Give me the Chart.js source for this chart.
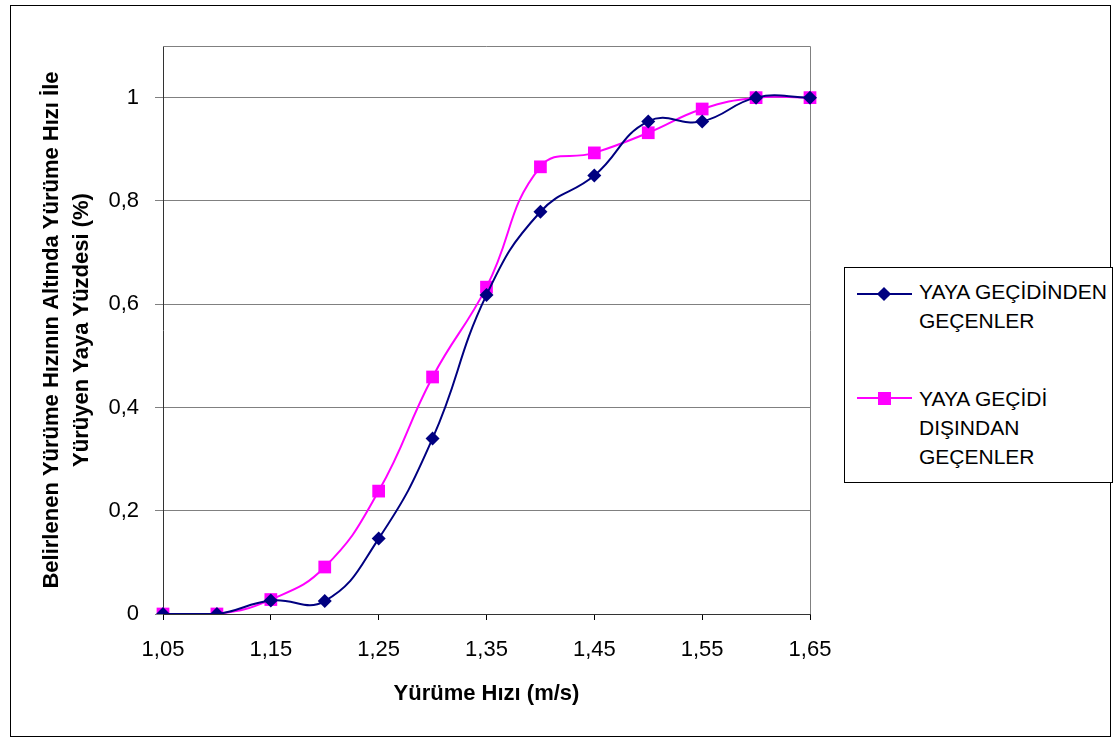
<!DOCTYPE html>
<html>
<head>
<meta charset="utf-8">
<script src="https://cdn.jsdelivr.net/npm/chart.js@4.4.1/dist/chart.umd.min.js"></script>
<style>
  body { margin: 0; background: #fff; }
  #wrap { position: relative; width: 1115px; height: 740px; }
  #chart { position: absolute; left: 0; top: 0; }
  #frame { position: absolute; left: 10px; top: 5px; width: 1101px; height: 732px; border: 1px solid #000; box-sizing: border-box; pointer-events: none; }
  #legend { position: absolute; left: 844px; top: 267px; width: 269px; height: 216px; border: 1px solid #000; box-sizing: border-box; background: #fff;
            font-family: "Liberation Sans", Arial, sans-serif; font-size: 21px; color: #000; }
  .sample { position: absolute; left: 12px; width: 55px; height: 2px; }
  .mark { position: absolute; }
  .txt { position: absolute; left: 74px; line-height: 29px; white-space: nowrap; }
</style>
</head>
<body>
<div id="wrap">
  <canvas id="chart" width="1115" height="740"></canvas>
  <div id="frame"></div>
  <div id="legend"></div>
</div>
<script>
// Yürüme hızı kategorileri (m/s)
const speeds = ['1,05', '1,10', '1,15', '1,20', '1,25', '1,30', '1,35', '1,40', '1,45', '1,50', '1,55', '1,60', '1,65'];
// Yaya geçidinden geçenler
const crossingValues = [0, 0, 0.026, 0.025, 0.146, 0.340, 0.618, 0.779, 0.849, 0.954, 0.954, 1, 1];
// Yaya geçidi dışından geçenler
const outsideValues = [0, 0, 0.028, 0.091, 0.238, 0.459, 0.633, 0.866, 0.893, 0.932, 0.978, 1, 1];
const yTicks = [0, 0.2, 0.4, 0.6, 0.8, 1];

const seriesNames = [['YAYA GEÇİDİNDEN', 'GEÇENLER'], ['YAYA GEÇİDİ', 'DIŞINDAN', 'GEÇENLER']];
const navy = '#000080';
const magenta = '#FF00FF';
const FONT = '"Liberation Sans", Arial, sans-serif';

// frame round the plot area (top and right sides in gray)
const plotFrame = {
  id: 'plotFrame',
  beforeDatasetsDraw(chart) {
    const { ctx, chartArea: a } = chart;
    ctx.save();
    ctx.strokeStyle = '#808080';
    ctx.lineWidth = 1;
    ctx.beginPath();
    ctx.moveTo(a.left, a.top + 0.5);
    ctx.lineTo(a.right + 0.5, a.top + 0.5);
    ctx.lineTo(a.right + 0.5, a.bottom);
    ctx.stroke();
    ctx.restore();
  }
};

new Chart(document.getElementById('chart').getContext('2d'), {
  type: 'line',
  data: {
    labels: speeds,
    datasets: [{
      label: seriesNames[0].join(' '),
      data: crossingValues,
      borderColor: navy,
      backgroundColor: navy,
      borderWidth: 2,
      pointStyle: 'rectRot',
      pointRadius: 7,
      pointBorderWidth: 0,
      tension: 0.45
    }, {
      label: seriesNames[1].join(' '),
      data: outsideValues,
      borderColor: magenta,
      backgroundColor: magenta,
      borderWidth: 2,
      pointStyle: 'rect',
      pointRadius: 9,
      pointBorderWidth: 0,
      tension: 0.45
    }]
  },
  options: {
    responsive: false,
    animation: false,
    layout: { padding: { left: 0, right: 305, top: 46, bottom: 0 } },
    plugins: { legend: { display: false }, tooltip: { enabled: false } },
    scales: {
      x: {
        offset: false,
        afterFit: s => { s.height = 126; },
        grid: {
          drawOnChartArea: false,
          tickLength: 6,
          color: c => (c.index % 2 === 0 ? '#000' : 'rgba(0,0,0,0)')
        },
        border: { color: '#333', width: 1 },
        ticks: {
          autoSkip: false,
          maxRotation: 0,
          padding: 17,
          color: '#000',
          font: { family: FONT, size: 22 },
          callback: (v, i) => (i % 2 === 0 ? speeds[i] : '')
        },
        title: {
          display: true,
          text: 'Yürüme Hızı (m/s)',
          color: '#000',
          font: { family: FONT, size: 22, weight: 'bold', lineHeight: 1.2 },
          padding: { top: 4, bottom: 33 }
        }
      },
      y: {
        min: 0,
        max: 1.1,
        afterFit: s => { s.width = 163; },
        afterBuildTicks: s => { s.ticks = yTicks.map(v => ({ value: v })); },
        grid: { color: '#808080', tickLength: 8 },
        border: { color: '#333', width: 1 },
        ticks: {
          padding: 16,
          color: '#000',
          font: { family: FONT, size: 22 },
          callback: v => String(v).replace('.', ',')
        },
        title: {
          display: true,
          text: ['Belirlenen Yürüme Hızının Altında Yürüme Hızı İle', 'Yürüyen Yaya Yüzdesi (%)'],
          color: '#000',
          font: { family: FONT, size: 22, weight: 'bold', lineHeight: 1.364 },
          padding: { top: 37, bottom: 0 }
        }
      }
    }
  },
  plugins: [plotFrame]
});

// legend box drawn as html next to the chart
const legendEl = document.getElementById('legend');
const textTops = [9, 116];
const markTops = [26, 130];
[navy, magenta].forEach((col, i) => {
  const y = markTops[i];
  const mk = i === 0
    ? `<div class="mark" style="top:${y - 5}px;left:${39 - 5}px;width:10px;height:10px;background:${col};transform:rotate(45deg)"></div>`
    : `<div class="mark" style="top:${y - 6}px;left:${39 - 6}px;width:13px;height:13px;background:${col}"></div>`;
  legendEl.insertAdjacentHTML('beforeend',
    `<div class="sample" style="top:${y - 1}px;background:${col}"></div>${mk}` +
    `<div class="txt" style="top:${textTops[i]}px">${seriesNames[i].join('<br>')}</div>`);
});
</script>
</body>
</html>
